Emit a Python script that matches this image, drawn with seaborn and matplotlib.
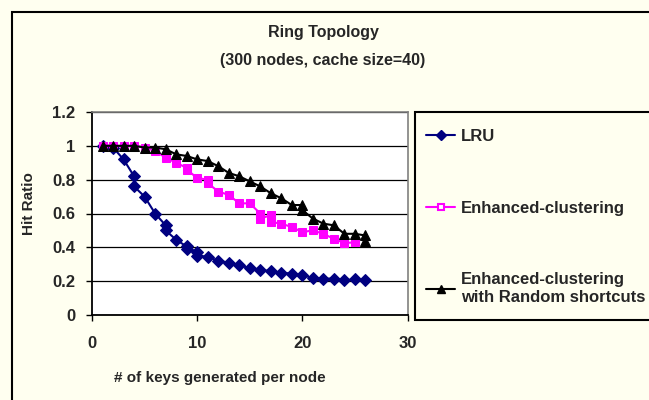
import matplotlib
matplotlib.use("Agg")
import matplotlib.pyplot as plt
from matplotlib.patches import Rectangle
from matplotlib.lines import Line2D
import seaborn as sns

sns.set_theme(style="white")
plt.rcParams["font.family"] = ["Liberation Sans", "DejaVu Sans"]
plt.rcParams["font.weight"] = "bold"

# keys generated per node (some x values repeat where two runs were plotted)
x_lru = [1, 2, 3, 4, 4, 5, 6, 7, 7, 8, 9, 9, 10, 10, 11, 12, 13, 14, 15, 16,
         17, 18, 19, 20, 21, 22, 23, 24, 25, 26]
lru = [1.0, 0.99, 0.92, 0.82, 0.76, 0.70, 0.60, 0.53, 0.50, 0.445, 0.405, 0.39,
       0.37, 0.35, 0.345, 0.32, 0.31, 0.295, 0.275, 0.265, 0.26, 0.25, 0.245,
       0.235, 0.22, 0.215, 0.215, 0.205, 0.21, 0.205]

x_ec = [1, 2, 3, 4, 5, 6, 7, 8, 9, 9, 10, 11, 11, 12, 13, 14, 15, 16, 16, 17,
        17, 18, 19, 20, 21, 22, 23, 24, 25]
enh_clust = [1.0, 1.0, 1.0, 1.0, 0.99, 0.97, 0.93, 0.90, 0.87, 0.86, 0.81, 0.80,
             0.78, 0.73, 0.71, 0.66, 0.66, 0.60, 0.57, 0.59, 0.55, 0.54, 0.52,
             0.49, 0.50, 0.48, 0.45, 0.425, 0.43]

x_rs = [1, 2, 3, 4, 5, 6, 7, 8, 9, 10, 11, 12, 13, 14, 15, 16, 17, 18, 19, 20,
        20, 21, 22, 23, 24, 25, 26, 26]
enh_random = [1.0, 1.0, 1.0, 1.0, 0.99, 0.99, 0.98, 0.95, 0.94, 0.92, 0.91, 0.88,
              0.84, 0.82, 0.79, 0.76, 0.72, 0.69, 0.65, 0.65, 0.62, 0.57, 0.54,
              0.53, 0.48, 0.48, 0.47, 0.44]

labels = ["LRU", "Enhanced-clustering", "Enhanced-clustering\nwith Random shortcuts"]
x_ticks = [0, 10, 20, 30]
y_ticks = [0, 0.2, 0.4, 0.6, 0.8, 1, 1.2]
y_tick_labels = ["0", "0.2", "0.4", "0.6", "0.8", "1", "1.2"]

BG = "#FFFFF0"
W, H = 649, 400
fig = plt.figure(figsize=(6.49, 4.0), dpi=100, facecolor=BG)
ax = fig.add_axes([92 / W, 1 - 315 / H, (407.5 - 92) / W, (315 - 112) / H])
ax.set_facecolor("white")

sns.lineplot(x=x_lru, y=lru, ax=ax, sort=False, estimator=None, color="#000080",
             marker="D", markersize=6, markeredgecolor="#000080", linewidth=1.5)
sns.lineplot(x=x_ec, y=enh_clust, ax=ax, sort=False, estimator=None, color="#FF00FF",
             marker="s", markersize=5.5, markeredgecolor="#FF00FF", linewidth=1.5)
sns.lineplot(x=x_rs, y=enh_random, ax=ax, sort=False, estimator=None, color="black",
             marker="^", markersize=7, markeredgecolor="black", linewidth=1.5)

ax.set_xlim(0, 30)
ax.set_ylim(0, 1.2)
ax.set_xticks(x_ticks)
ax.set_xticklabels([str(t) for t in x_ticks], fontsize=12, fontweight="bold")
ax.set_yticks(y_ticks)
ax.set_yticklabels(y_tick_labels, fontsize=12, fontweight="bold")
ax.tick_params(axis="both", direction="out", length=4, width=1, color="black",
               left=True, bottom=True)
ax.tick_params(axis="x", pad=11)
ax.tick_params(axis="y", pad=8)
ax.grid(axis="y", color="black", linewidth=0.9)
ax.grid(axis="x", visible=False)
for s in ["top", "right"]:
    ax.spines[s].set_color("#808080")
    ax.spines[s].set_linewidth(1.2)
for s in ["left", "bottom"]:
    ax.spines[s].set_color("black")
    ax.spines[s].set_linewidth(1.3)
ax.set_xlabel("")
ax.set_ylabel("")

fig.text(29 / W, 1 - 204 / H, "Hit Ratio", rotation=90, ha="center", va="center",
         fontsize=11, fontweight="bold")
fig.text(220 / W, 1 - 378 / H, "# of keys generated per node", ha="center", va="center",
         fontsize=11, fontweight="bold")
fig.text(323 / W, 1 - 33 / H, "Ring Topology", ha="center", va="center",
         fontsize=11.5, fontweight="bold")
fig.text(323 / W, 1 - 60 / H, "(300 nodes, cache size=40)", ha="center", va="center",
         fontsize=11.5, fontweight="bold")

# outer chart frame and legend box
fig.patches.append(Rectangle((12 / W, -0.1), 1.0, 1 - 12 / H + 0.1, transform=fig.transFigure,
                             fill=False, edgecolor="black", linewidth=1.5, zorder=0))
fig.patches.append(Rectangle((415 / W, 1 - 320 / H), 1.0, (320 - 112) / H,
                             transform=fig.transFigure, facecolor=BG, edgecolor="black",
                             linewidth=1.5, zorder=1))

handles = [
    Line2D([], [], color="#000080", marker="D", markersize=5, linewidth=1.5),
    Line2D([], [], color="#FF00FF", marker="s", markersize=5, markerfacecolor="white",
           markeredgewidth=1.5, linewidth=1.5),
    Line2D([], [], color="black", marker="^", markersize=6, linewidth=1.5),
]
fig.legend(handles, labels, loc="upper left", bbox_to_anchor=(411 / W, 1 - 114 / H),
           frameon=False, labelspacing=3.4, handlelength=1.75,
           handletextpad=0.35, prop={"weight": "bold", "size": 12})

fig.savefig("out.png", dpi=100, facecolor=BG)
